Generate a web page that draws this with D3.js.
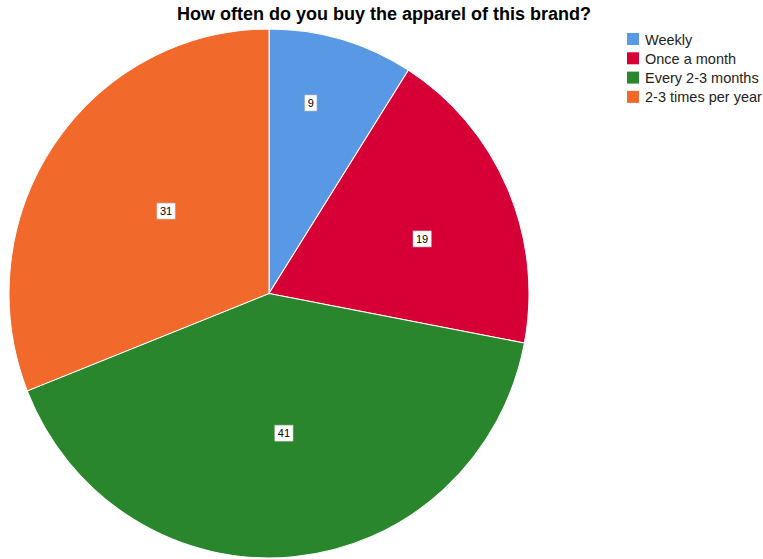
<!DOCTYPE html>
<html><head><meta charset="utf-8">
<script src="https://cdn.jsdelivr.net/npm/d3@7"></script>
<style>body{margin:0;background:#fff;overflow:hidden}svg{display:block}</style>
</head><body>
<script>
const categories = ["Weekly", "Once a month", "Every 2-3 months", "2-3 times per year"];
const values = [9, 19, 41, 31];
const colors = ["#5898e4", "#d60036", "#2a862d", "#f2692c"];
// label placement style: radius fraction and angular nudge (degrees)
const labelFrac = [0.738, 0.624, 0.531, 0.504];
const labelShift = [-3.6, 4.1, -0.8, 4.0];

const W = 763, H = 559;
const cx = 269, cy = 293.5, R = 260, sy = 264.5 / 260;
const font = "Liberation Sans, Arial, sans-serif";
const svg = d3.select("body").append("svg").attr("width", W).attr("height", H);

svg.append("text").attr("x", 384).attr("y", 20).attr("text-anchor", "middle")
  .attr("font-family", font).attr("font-weight", "bold")
  .attr("font-size", 18).attr("fill", "#000").text("How often do you buy the apparel of this brand?");

const pie = d3.pie().sort(null).value(d => d)(values);
const arc = d3.arc().innerRadius(0).outerRadius(R);
const g = svg.append("g").attr("transform", `translate(${cx},${cy}) scale(1,${sy})`);
g.selectAll("path").data(pie).join("path")
  .attr("d", arc).attr("fill", (d, i) => colors[i])
  .attr("stroke", "#fff").attr("stroke-width", 1);

const lgl = svg.append("g").attr("transform", `translate(${cx},${cy})`);
pie.forEach((d, i) => {
  const a = (d.startAngle + d.endAngle) / 2 + labelShift[i] * Math.PI / 180;
  const r = R * labelFrac[i];
  const x = r * Math.sin(a), y = -r * Math.cos(a) * sy;
  const t = lgl.append("text").attr("x", x).attr("y", y + 4).attr("text-anchor", "middle")
    .attr("font-family", font).attr("font-size", 11)
    .attr("fill", "#000").text(values[i]);
  const bb = t.node().getBBox();
  lgl.insert("rect", "text").attr("x", bb.x - 3).attr("y", bb.y - 2)
    .attr("width", bb.width + 6).attr("height", bb.height + 4)
    .attr("fill", "#fff").attr("stroke", "#bbb").attr("stroke-width", 0.6);
  lgl.node().appendChild(t.node());
});

const lg = svg.append("g");
categories.forEach((c, i) => {
  const y = 33 + i * 19.3;
  lg.append("rect").attr("x", 627).attr("y", y).attr("width", 12).attr("height", 12).attr("fill", colors[i]);
  lg.append("text").attr("x", 645).attr("y", y + 11.5)
    .attr("font-family", font).attr("font-size", 14.5)
    .attr("fill", "#222").text(c);
});
</script>
</body></html>
